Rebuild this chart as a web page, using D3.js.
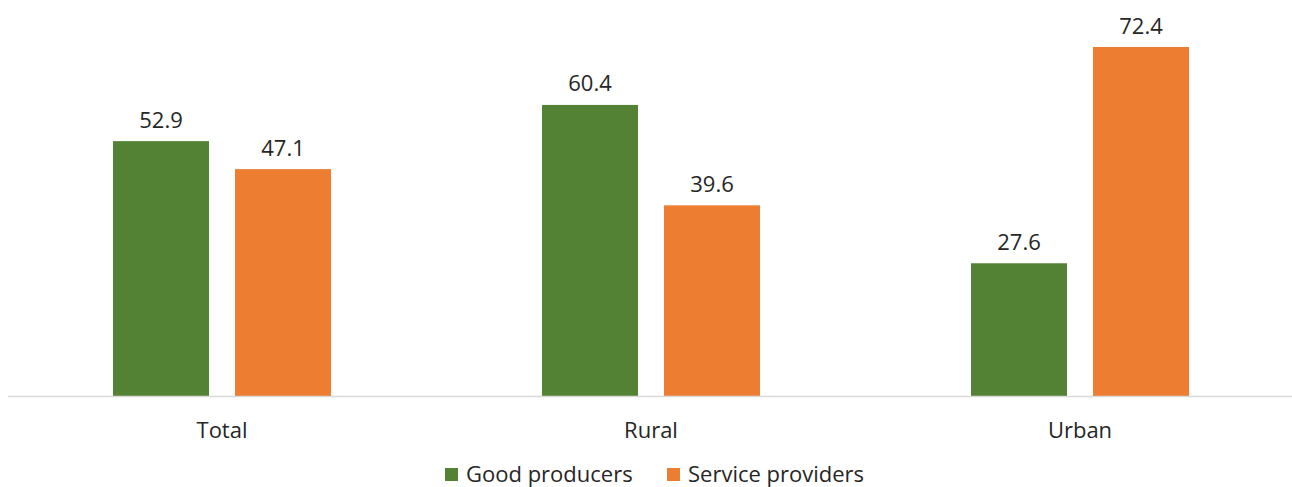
<!DOCTYPE html>
<html><head><meta charset="utf-8">
<script src="https://cdn.jsdelivr.net/npm/d3@7"></script>
<style>body{margin:0;background:#fff}svg{display:block}</style>
</head><body><svg id="c" width="1292" height="487"></svg>
<script>
const categories = ["Total", "Rural", "Urban"];
const seriesNames = ["Good producers", "Service providers"];
const goodProducers = [52.9, 60.4, 27.6];
const serviceProviders = [47.1, 39.6, 72.4];
const colors = ["#548235", "#ED7D31"];

const svg = d3.select("#c");
const font = "Open Sans, Noto Sans, sans-serif";
const fs = 22;
const baseY = 396.5;
const x0 = d3.scaleBand().domain(categories).range([7.5, 1294.5]).paddingInner(0);
const groupW = 218;
const x1 = d3.scaleBand().domain(seriesNames).range([0, groupW]).paddingInner(0.213);
const y = d3.scaleLinear().domain([0, 72.4]).range([baseY, 47]);

const data = categories.map((c, i) => ({cat: c, vals: [goodProducers[i], serviceProviders[i]]}));

const g = svg.selectAll("g.grp").data(data).join("g")
  .attr("transform", d => `translate(${x0(d.cat) + (x0.bandwidth() - groupW) / 2},0)`);

g.selectAll("rect").data(d => d.vals.map((v, j) => ({v, s: seriesNames[j], j}))).join("rect")
  .attr("x", d => x1(d.s)).attr("width", x1.bandwidth())
  .attr("y", d => y(d.v)).attr("height", d => baseY - y(d.v))
  .attr("fill", d => colors[d.j]);

g.selectAll("text.val").data(d => d.vals.map((v, j) => ({v, s: seriesNames[j]}))).join("text")
  .attr("class", "val")
  .attr("x", d => x1(d.s) + x1.bandwidth() / 2)
  .attr("y", d => y(d.v) - 13.5)
  .attr("text-anchor", "middle")
  .attr("font-family", font).attr("font-size", fs).attr("fill", "#262626")
  .text(d => d.v.toFixed(1));

// axis
const axis = svg.append("g").attr("transform", `translate(0,${baseY})`)
  .call(d3.axisBottom(x0).tickSize(0));
axis.select(".domain").attr("stroke", "#d9d9d9").attr("stroke-width", 1.3).attr("d", "M8,0H1292");
axis.selectAll("text").attr("y", 41.5).attr("dy", 0)
  .attr("font-family", font).attr("font-size", fs).attr("fill", "#262626");

// legend
const legendItems = [{name: seriesNames[0], x: 445}, {name: seriesNames[1], x: 667}];
const lg = svg.selectAll("g.leg").data(legendItems).join("g").attr("class", "leg")
  .attr("transform", d => `translate(${d.x},468)`);
lg.append("rect").attr("width", 13).attr("height", 13).attr("fill", (d, i) => colors[i]);
lg.append("text").attr("x", 21).attr("y", 14)
  .attr("font-family", font).attr("font-size", fs).attr("fill", "#262626")
  .text(d => d.name);
</script></body></html>
